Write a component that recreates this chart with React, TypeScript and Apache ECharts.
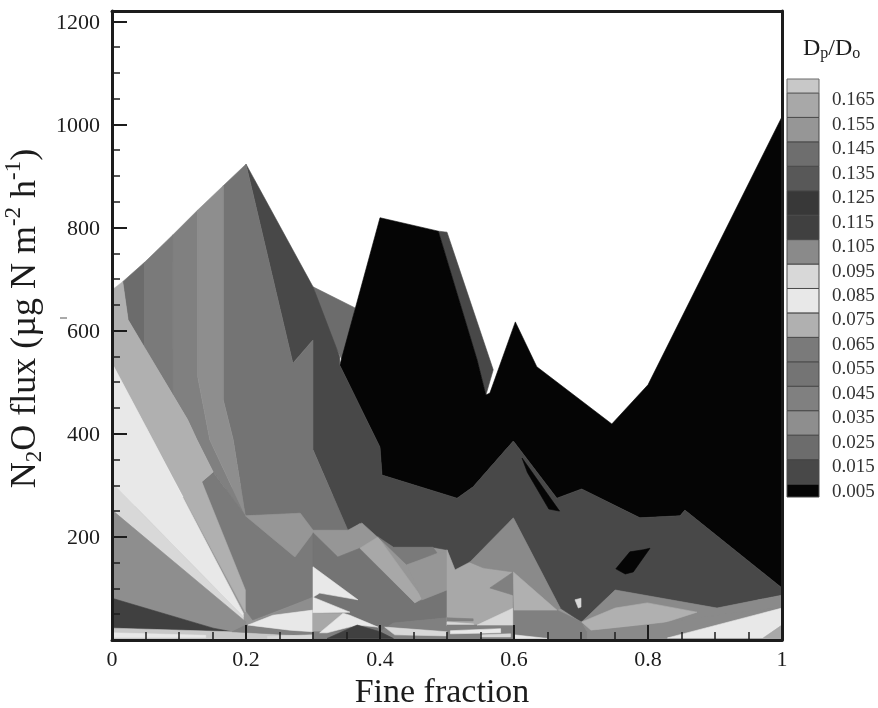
import React, { useEffect, useRef } from "react";
import * as echarts from "echarts";

type Pt = [number, number];

const legendLevels = [0.005, 0.015, 0.025, 0.035, 0.045, 0.055, 0.065, 0.075, 0.085, 0.095, 0.105, 0.115, 0.125, 0.135, 0.145, 0.155, 0.165];
const legendGrays = ["#050505", "#484848", "#6c6c6c", "#8e8e8e", "#808080", "#747474", "#7a7a7a", "#b0b0b0", "#e8e8e8", "#d8d8d8", "#8a8a8a", "#404040", "#383838", "#585858", "#6e6e6e", "#969696", "#a8a8a8"];
const topGray = "#c8c8c8";

const underlay: Pt[] = [[0, 0], [0, 250], [0.2, 300], [0.6, 237], [1, 60], [1, 0]];
const darkSliverTop: Pt[] = [[0.487, 793], [0.5, 791], [0.569, 524], [0.558, 475], [0.545, 543]];
const blackField: Pt[] = [[0.34, 533], [0.4, 819], [0.487, 793], [0.545, 543], [0.558, 475], [0.564, 479], [0.602, 617], [0.634, 530], [0.746, 419], [0.8, 495], [1, 1015], [1, 101], [0.855, 252], [0.848, 241], [0.788, 237], [0.701, 293], [0.664, 275], [0.599, 386], [0.539, 297], [0.515, 275], [0.403, 320], [0.4, 374]];
const darkField: Pt[] = [[0.2, 923], [0.3, 685], [0.34, 549], [0.34, 533], [0.4, 374], [0.403, 320], [0.515, 275], [0.539, 297], [0.599, 386], [0.664, 275], [0.701, 293], [0.788, 237], [0.848, 241], [0.855, 252], [1, 101], [1, 87], [0.903, 62], [0.751, 97], [0.701, 35], [0.669, 62], [0.599, 237], [0.534, 151], [0.512, 136], [0.5, 175], [0.479, 180], [0.42, 180], [0.396, 200], [0.37, 227], [0.352, 213], [0.3, 369], [0.3, 582], [0.27, 537]];
const midTriangle: Pt[] = [[0.3, 685], [0.363, 644], [0.345, 540], [0.32, 600]];
const mainField: Pt[] = [[0.166, 881], [0.2, 923], [0.27, 537], [0.3, 582], [0.3, 369], [0.352, 213], [0.3, 213], [0.281, 246], [0.199, 241], [0.181, 388], [0.166, 466]];
const col1: Pt[] = [[0.016, 695], [0.049, 733], [0.049, 566], [0.024, 621]];
const col2: Pt[] = [[0.049, 733], [0.091, 786], [0.091, 475], [0.049, 566]];
const col3: Pt[] = [[0.091, 786], [0.128, 834], [0.128, 510], [0.146, 388], [0.199, 241], [0.151, 326], [0.127, 388], [0.113, 427], [0.091, 475]];
const col4: Pt[] = [[0.128, 834], [0.166, 881], [0.166, 466], [0.181, 388], [0.199, 241], [0.146, 388], [0.128, 510]];
const notchField: Pt[] = [[0.134, 307], [0.151, 326], [0.199, 241], [0.273, 161], [0.3, 208], [0.3, 83], [0.21, 39], [0.199, 58]];
const fanBand: Pt[] = [[0, 679], [0.016, 695], [0.024, 621], [0.113, 427], [0.127, 388], [0.151, 326], [0.134, 307], [0.199, 97], [0.199, 54], [0.061, 388], [0, 537]];
const fanWhite: Pt[] = [[0, 537], [0.061, 388], [0.196, 52], [0.196, 45], [0, 305]];
const fanPale: Pt[] = [[0, 305], [0.196, 45], [0.196, 35], [0, 252]];
const fanGray: Pt[] = [[0, 252], [0.2, 35], [0.2, 16], [0.151, 16], [0, 81]];
const fanDark: Pt[] = [[0, 81], [0.151, 23], [0.179, 16], [0, 23]];
const floorLeft: Pt[] = [[0, 23], [0.179, 16], [0.3, 8], [0.3, 0], [0, 0]];
const floorWhite: Pt[] = [[0, 14], [0.14, 9], [0.14, 5], [0, 5]];
const floorMid: Pt[] = [[0.179, 16], [0.2, 29], [0.266, 19], [0.3, 16], [0.3, 8]];
const midWedge: Pt[] = [[0.216, 39], [0.3, 83], [0.3, 58]];
const paleRoof: Pt[] = [[0.199, 241], [0.281, 246], [0.3, 213], [0.352, 213], [0.373, 227], [0.396, 200], [0.37, 178], [0.337, 161], [0.3, 208], [0.273, 161]];
const whiteLeft: Pt[] = [[0.203, 29], [0.24, 48], [0.3, 58], [0.3, 16], [0.266, 19]];
const whiteFloor: Pt[] = [[0.232, 7], [0.3, 10], [0.3, 3], [0.232, 3]];
const secondMain: Pt[] = [[0.3, 208], [0.337, 161], [0.37, 178], [0.452, 72], [0.5, 97], [0.5, 43], [0.42, 33], [0.4, 16], [0.3, 0]];
const lightStripe: Pt[] = [[0.37, 178], [0.397, 200], [0.463, 81], [0.452, 72]];
const grayPatch: Pt[] = [[0.397, 200], [0.42, 180], [0.479, 180], [0.485, 169], [0.44, 146]];
const paleQuad: Pt[] = [[0.44, 146], [0.5, 173], [0.5, 97], [0.463, 78]];
const whiteA: Pt[] = [[0.3, 142], [0.367, 78], [0.31, 91], [0.3, 83]];
const whiteB: Pt[] = [[0.3, 83], [0.355, 54], [0.3, 52]];
const grayC: Pt[] = [[0.3, 52], [0.345, 52], [0.31, 14], [0.3, 14]];
const whiteC: Pt[] = [[0.345, 52], [0.355, 48], [0.397, 25], [0.366, 29], [0.321, 14], [0.31, 14]];
const floorMiddle: Pt[] = [[0.3, 16], [0.4, 16], [0.42, 33], [0.5, 43], [0.5, 0], [0.3, 0]];
const hump: Pt[] = [[0.321, 3], [0.366, 29], [0.4, 16], [0.42, 3]];
const whiteD: Pt[] = [[0.407, 25], [0.5, 16], [0.5, 8], [0.422, 10]];
const centerField: Pt[] = [[0.5, 175], [0.512, 136], [0.534, 151], [0.597, 136], [0.599, 29], [0.5, 29]];
const centerLine: Pt[] = [[0.5, 43], [0.539, 41], [0.539, 37], [0.5, 37]];
const centerPale: Pt[] = [[0.5, 35], [0.54, 31], [0.54, 25], [0.5, 27]];
const centerFloor: Pt[] = [[0.5, 29], [0.599, 29], [0.599, 0], [0.5, 0]];
const centerWhite: Pt[] = [[0.505, 18], [0.58, 22], [0.58, 14], [0.505, 12]];
const centerPale2: Pt[] = [[0.55, 10], [0.595, 12], [0.595, 6], [0.55, 6]];
const centerGlow: Pt[] = [[0.545, 29], [0.599, 62], [0.599, 29]];
const centerWedge: Pt[] = [[0.564, 101], [0.599, 132], [0.599, 87]];
const slopeBand: Pt[] = [[0.534, 151], [0.599, 237], [0.669, 62], [0.664, 58], [0.599, 132], [0.554, 140]];
const slopeBase: Pt[] = [[0.599, 132], [0.664, 58], [0.701, 35], [0.709, 16], [0.709, 0], [0.599, 0]];
const slopeLight: Pt[] = [[0.599, 132], [0.664, 58], [0.6, 58]];
const slopeWhite: Pt[] = [[0.6, 10], [0.65, 3], [0.6, 3]];
const rightRoof: Pt[] = [[0.701, 35], [0.751, 97], [0.903, 62], [1, 87], [1, 62], [0.923, 52], [0.823, 33], [0.709, 16]];
const rightLight: Pt[] = [[0.701, 35], [0.751, 62], [0.799, 72], [0.873, 54], [0.823, 33], [0.715, 19]];
const rightBase: Pt[] = [[0.709, 16], [0.823, 33], [0.923, 52], [1, 62], [0.829, 4], [0.829, 0], [0.709, 0]];
const rightWhite: Pt[] = [[0.829, 4], [1, 62], [1, 29], [0.972, 4]];
const rightCorner: Pt[] = [[0.972, 0], [0.972, 4], [1, 29], [1, 0]];
const blackPatch: Pt[] = [[0.752, 138], [0.773, 171], [0.793, 175], [0.803, 178], [0.778, 132], [0.766, 128]];
const blackSliver: Pt[] = [[0.612, 353], [0.668, 250], [0.652, 254], [0.62, 325]];
const whiteSpot: Pt[] = [[0.691, 78], [0.7, 81], [0.7, 64], [0.696, 62]];

// painter's order: [contour level, outline]
const layers: [number, Pt[]][] = [
  [0.025, midTriangle], [0.155, underlay],
  [0.015, darkSliverTop], [0.005, blackField], [0.015, darkField],
  [0.055, mainField], [0.025, col1], [0.065, col2], [0.045, col3], [0.035, col4],
  [0.065, notchField], [0.075, fanBand], [0.085, fanWhite], [0.095, fanPale], [0.035, fanGray],
  [0.115, fanDark], [0.175, floorLeft], [0.085, floorWhite], [0.045, floorMid], [0.035, midWedge],
  [0.155, paleRoof], [0.085, whiteLeft], [0.095, whiteFloor], [0.055, secondMain], [0.165, lightStripe],
  [0.065, grayPatch], [0.155, paleQuad], [0.085, whiteA], [0.085, whiteB], [0.165, grayC],
  [0.045, floorMiddle], [0.085, whiteC], [0.115, hump], [0.095, whiteD], [0.165, centerField],
  [0.045, centerLine], [0.095, centerPale], [0.045, centerFloor], [0.085, centerWhite], [0.095, centerPale2],
  [0.095, centerGlow], [0.045, centerWedge], [0.105, slopeBand], [0.045, slopeBase], [0.075, slopeLight],
  [0.085, slopeWhite], [0.105, rightRoof], [0.075, rightLight], [0.105, rightBase], [0.085, rightWhite],
  [0.165, rightCorner], [0.005, blackPatch], [0.005, blackSliver], [0.095, whiteSpot],
];

const grayOf = (level: number) => {
  const i = legendLevels.findIndex((l) => Math.abs(l - level) < 1e-6);
  return i < 0 ? topGray : legendGrays[i];
};

const serif = "Liberation Serif";
const ink = "#1c1c1c";

export default function App() {
  const ref = useRef<HTMLDivElement>(null);
  useEffect(() => {
    document.body.style.margin = "0";
    const chart = echarts.init(ref.current!, undefined, { renderer: "svg" });

    const barLeft = 787;
    const barWidth = 32;
    const barTop = 79;
    const barBottom = 497;
    const firstEdge = 484;
    const step = 24.44;
    const legendRects: any[] = legendLevels.map((lvl, i) => {
      const y1 = i === 0 ? barBottom : firstEdge - (i - 1) * step;
      const y0 = firstEdge - i * step;
      return {
        type: "rect",
        shape: { x: barLeft, y: y0, width: barWidth, height: y1 - y0 },
        style: { fill: legendGrays[i], stroke: "#4a4a4a", lineWidth: 1 },
      };
    });
    const topEdge = firstEdge - 16 * step;
    legendRects.push({
      type: "rect",
      shape: { x: barLeft, y: barTop, width: barWidth, height: topEdge - barTop },
      style: { fill: topGray, stroke: "#6a6a6a", lineWidth: 1 },
    });
    const legendTexts = legendLevels.map((lvl, i) => ({
      type: "text",
      x: 832,
      y: 490 - i * step,
      style: { text: lvl.toFixed(3), font: `19px "${serif}"`, fill: "#333", align: "left", verticalAlign: "middle" },
    }));

    const axisCommon = {
      type: "value",
      z: 10,
      axisLine: { show: true, onZero: false, lineStyle: { color: ink, width: 3 } },
      axisTick: { show: true, inside: true, length: 15, lineStyle: { color: ink, width: 2 } },
      minorTick: { show: true, splitNumber: 4, length: 8, lineStyle: { color: ink, width: 1.5 } },
      splitLine: { show: false },
      minorSplitLine: { show: false },
    };
    const frameAxis = {
      type: "value",
      z: 10,
      axisLine: { show: true, onZero: false, lineStyle: { color: ink, width: 3 } },
      axisTick: { show: false },
      axisLabel: { show: false },
      splitLine: { show: false },
    };

    chart.setOption({
      animation: false,
      backgroundColor: "#ffffff",
      grid: { left: 112, top: 11, width: 670, height: 629, containLabel: false, outerBoundsMode: "none" },
      xAxis: [
        {
          ...axisCommon,
          position: "bottom",
          min: 0,
          max: 1,
          interval: 0.2,
          name: "Fine fraction",
          nameLocation: "middle",
          nameGap: 36,
          nameTextStyle: { fontFamily: serif, fontSize: 34, color: ink, lineHeight: 28, padding: [0, 10, 0, 0] },
          axisLabel: { fontFamily: serif, fontSize: 22, color: ink, margin: 7 },
        },
        { ...frameAxis, position: "top", min: 0, max: 1 },
      ],
      yAxis: [
        {
          ...axisCommon,
          position: "left",
          min: 0,
          max: 1220,
          interval: 200,
          name: "{n|N}{s|2}{n|O flux (µg N m}{u|-2}{n| h}{u|-1}{n|)}",
          nameLocation: "middle",
          nameRotate: 90,
          nameGap: 52,
          nameTextStyle: {
            color: ink,
            padding: [0, 0, 0, 14],
            rich: {
              n: { fontFamily: serif, fontSize: 36, color: ink, lineHeight: 44 },
              s: { fontFamily: serif, fontSize: 23, color: ink, lineHeight: 44, verticalAlign: "bottom" },
              u: { fontFamily: serif, fontSize: 23, color: ink, lineHeight: 44, verticalAlign: "top" },
            },
          },
          axisLabel: {
            fontFamily: serif,
            fontSize: 22,
            color: ink,
            margin: 12,
            formatter: (v: number) => (v === 0 ? "" : String(v)),
          },
        },
        { ...frameAxis, position: "right", min: 0, max: 1220 },
      ],
      series: [
        {
          type: "custom",
          coordinateSystem: "cartesian2d",
          xAxisIndex: 0,
          yAxisIndex: 0,
          silent: true,
          clip: true,
          z: 2,
          data: layers.map((_, i) => [i]),
          renderItem: (params: any, api: any) => {
            const [level, outline] = layers[params.dataIndex];
            const fill = grayOf(level);
            return {
              type: "polygon",
              shape: { points: outline.map((p) => api.coord(p)) },
              style: { fill, stroke: fill, lineWidth: 0.6 },
            };
          },
        },
      ],
      graphic: [
        ...legendRects.map((r) => ({ ...r, z: 20 })),
        ...legendTexts.map((t) => ({ ...t, z: 20 })),
        {
          type: "text",
          x: 803,
          y: 47,
          z: 20,
          style: {
            text: "{n|D}{s|p}{n|/D}{s|o}",
            align: "left",
            verticalAlign: "middle",
            rich: {
              n: { fontFamily: serif, fontSize: 24, fill: ink, lineHeight: 26 },
              s: { fontFamily: serif, fontSize: 16, fill: ink, lineHeight: 26, verticalAlign: "bottom" },
            },
          },
        },
        { type: "line", z: 20, shape: { x1: 60, y1: 318, x2: 67, y2: 318 }, style: { stroke: "#555", lineWidth: 1 } },
      ],
    });
    return () => chart.dispose();
  }, []);
  return <div ref={ref} style={{ width: 878, height: 708, filter: "blur(0.7px)" }} />;
}
